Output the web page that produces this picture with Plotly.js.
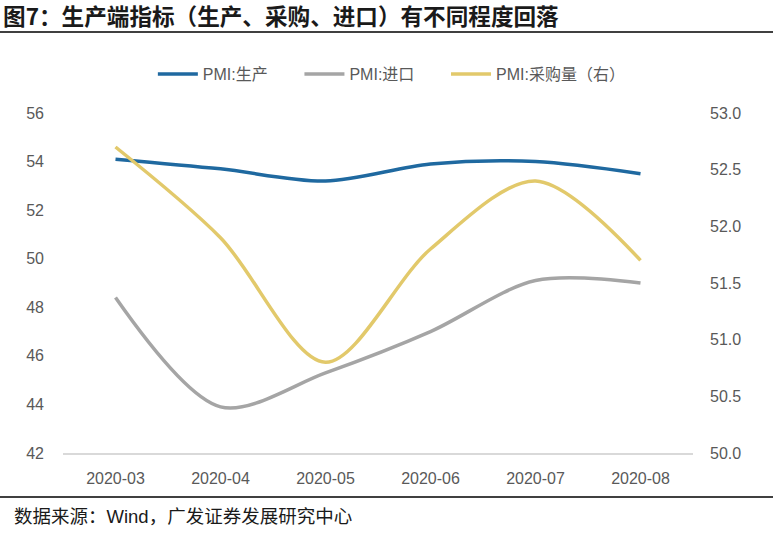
<!DOCTYPE html>
<html><head><meta charset="utf-8">
<script src="https://cdn.plot.ly/plotly-3.0.1.min.js"></script>
<style>body{margin:0;background:#fff}#c{width:773px;height:538px}</style>
</head><body><div id="c"></div>
<script>
const months = ["2020-03","2020-04","2020-05","2020-06","2020-07","2020-08"];
const production = [54.1, 53.7, 53.2, 53.9, 54.0, 53.5];
const imports = [48.4, 43.9, 45.3, 47.0, 49.1, 49.0];
const purchase = [52.7, 51.9, 50.8, 51.8, 52.4, 51.7];
const leftTicks = [42,44,46,48,50,52,54,56];
const rightTicks = [50.0,50.5,51.0,51.5,52.0,52.5,53.0];

const W=630,H=340,L=63,T=113;
const px = x => (x-L)/W, py = y => 1-(y-T)/H;
const font = "Arial, 'Liberation Sans', 'Noto Sans CJK SC', sans-serif";
const traces = [
  {x:months,y:production,name:"PMI:生产&nbsp;&nbsp;&nbsp;&nbsp;&nbsp;&nbsp;",type:"scatter",mode:"lines",line:{color:"#1f69a0",width:3.5,shape:"spline",smoothing:0.9}},
  {x:months,y:imports,name:"PMI:进口&nbsp;&nbsp;&nbsp;&nbsp;&nbsp;&nbsp;",type:"scatter",mode:"lines",line:{color:"#a5a5a5",width:3.5,shape:"spline",smoothing:0.9}},
  {x:months,y:purchase,name:"PMI:采购量（右）",type:"scatter",mode:"lines",yaxis:"y2",line:{color:"#e2c96b",width:3.5,shape:"spline",smoothing:0.9}}
];
const layout = {
  width:773,height:538,margin:{l:L,r:80,t:T,b:85},
  paper_bgcolor:"#fff",plot_bgcolor:"#fff",showlegend:true,
  font:{family:font,color:"#595959",size:16},
  title:{text:"图7：生产端指标（生产、采购、进口）有不同程度回落",x:0.004,xref:"container",xanchor:"left",y:0.968,yref:"container",yanchor:"middle",
    font:{family:"'Noto Sans CJK SC', sans-serif",size:22.6,color:"#1a1a1a",weight:"bold"}},
  legend:{orientation:"h",x:0.522,xanchor:"center",y:py(74),yanchor:"middle",font:{size:16,color:"#595959"},itemwidth:40,tracegroupgap:0},
  xaxis:{type:"category",range:[-0.5,5.5],showgrid:false,zeroline:false,showline:true,linecolor:"#d9d9d9",linewidth:1.5,ticks:"",tickfont:{size:16,color:"#595959"},ticklabelstandoff:10,fixedrange:true},
  yaxis:{range:[42,56],tickvals:leftTicks,showgrid:false,zeroline:false,showline:false,ticks:"",tickfont:{size:16,color:"#595959"},ticklabelstandoff:18},
  yaxis2:{range:[50,53],overlaying:"y",side:"right",tickvals:rightTicks,tickformat:".1f",showgrid:false,zeroline:false,showline:false,ticks:"",tickfont:{size:16,color:"#595959"},ticklabelstandoff:16},
  shapes:[
    {type:"line",xref:"paper",yref:"paper",x0:px(0),x1:px(773),y0:py(32),y1:py(32),line:{color:"#000",width:1.5}},
    {type:"line",xref:"paper",yref:"paper",x0:px(0),x1:px(773),y0:py(497),y1:py(497),line:{color:"#000",width:1.5}}
  ],
  annotations:[
    {text:"数据来源：Wind，广发证券发展研究中心",xref:"paper",yref:"paper",x:px(12),y:py(516),xanchor:"left",yanchor:"middle",showarrow:false,font:{family:font,size:18.5,color:"#1a1a1a"}}
  ]
};
Plotly.newPlot("c",traces,layout,{displayModeBar:false,staticPlot:true});
</script></body></html>
